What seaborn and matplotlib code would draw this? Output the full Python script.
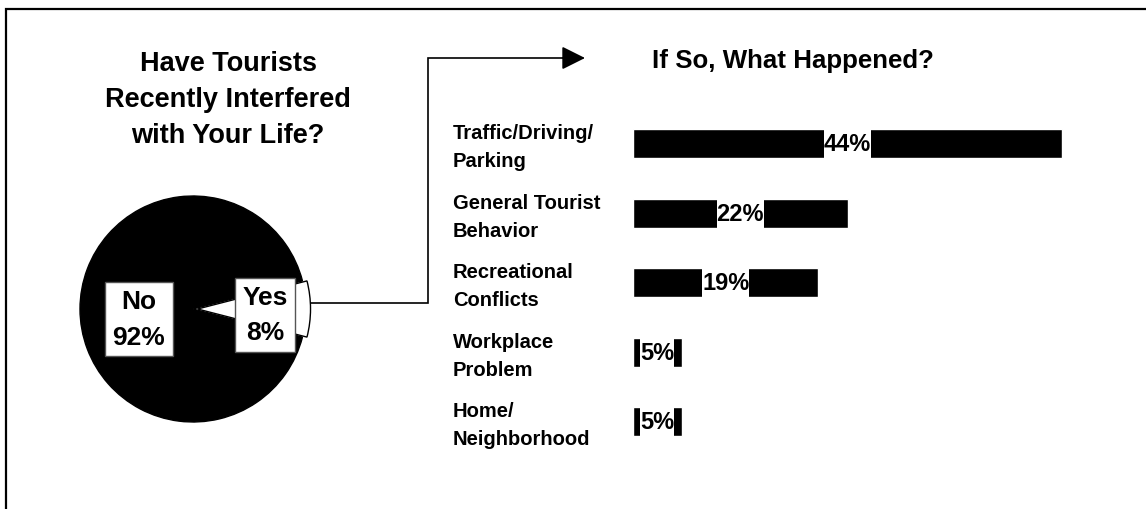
import matplotlib
matplotlib.use("Agg")
import matplotlib.pyplot as plt
import matplotlib.transforms as mtransforms
from matplotlib.path import Path
import numpy as np
import pandas as pd
import seaborn as sns

# Pie: did tourists interfere?
pie_labels = ["No", "Yes"]
pie_values = [92, 8]

# Bars: what happened (share of "Yes" answers)
categories = [
    "Traffic/Driving/\nParking",
    "General Tourist\nBehavior",
    "Recreational\nConflicts",
    "Workplace\nProblem",
    "Home/\nNeighborhood",
]
percentages = [44, 22, 19, 5, 5]

left_title = "Have Tourists\nRecently Interfered\nwith Your Life?"
right_title = "If So, What Happened?"

W, H = 1146, 510
sns.set_theme(style="white")
plt.rcParams["font.family"] = ["Liberation Sans", "DejaVu Sans"]
plt.rcParams["font.weight"] = "bold"

fig = plt.figure(figsize=(W / 100, H / 100), dpi=100)
fig.patch.set_facecolor("white")


def px_axes(left, top, width, height):
    """Add an axes placed in pixel units measured from the top-left corner."""
    return fig.add_axes([left / W, 1 - (top + height) / H, width / W, height / H])


def tall_box(x0, y0, width, height, mutation_size):
    """Label box tight to the text horizontally, padded vertically."""
    pady = 0.2 * mutation_size
    x1, y1 = x0 + width, y0 + height
    return Path([(x0, y0 - pady), (x1, y0 - pady), (x1, y1 + pady),
                 (x0, y1 + pady), (x0, y0 - pady)], closed=True)


# Full-figure canvas for titles, frame and connector (pixel coordinates)
canvas = px_axes(0, 0, W, H)
canvas.set_xlim(0, W)
canvas.set_ylim(H, 0)
canvas.axis("off")

# Frame along the top and left edges
canvas.plot([6, 6, W], [H, 10, 10], color="black", lw=1.6, solid_joinstyle="miter")

canvas.text(228, 51, left_title, ha="center", va="top", fontsize=19.5,
            fontweight="bold", linespacing=1.49, color="black")
canvas.text(652, 68, right_title, ha="left", va="baseline", fontsize=18.6,
            fontweight="bold", color="black")

# ---- Pie ----
R = 113
cx, cy = 193, 310
pie_ax = px_axes(cx - 1.2 * R, cy - 1.2 * R, 2.4 * R, 2.4 * R)
pie_ax.patch.set_alpha(0)
wedges, _ = pie_ax.pie(
    pie_values,
    colors=["black", "white"],
    startangle=pie_values[1] / 100 * 180,
    explode=[0, 0.04],
    radius=1,
    wedgeprops=dict(edgecolor="black", linewidth=1),
)
pie_ax.set_xlim(-1.2, 1.2)
pie_ax.set_ylim(-1.2, 1.2)
pie_ax.set_aspect("equal")
pie_ax.axis("off")

label_pos = {"No": (0.48, -0.09), "Yes": (0.64, -0.05)}
for w, lab, val in zip(wedges, pie_labels, pie_values):
    ang = np.deg2rad((w.theta1 + w.theta2) / 2)
    r, dy = label_pos[lab]
    pie_ax.text(r * np.cos(ang), r * np.sin(ang) + dy, f"{lab}\n{val}%",
                ha="center", va="center", fontsize=19, fontweight="bold",
                linespacing=1.6, color="black",
                bbox=dict(boxstyle="square,pad=0.28", fc="white", ec="#555555", lw=1))

# Connector from the "Yes" slice to the bar panel
yes = wedges[1]
start_disp = pie_ax.transData.transform((yes.center[0] + yes.r, yes.center[1] + 0.05))
sx, sy = canvas.transData.inverted().transform(start_disp)
turn_x, top_y, tip_x = 428, 59, 585
canvas.plot([sx, turn_x, turn_x, tip_x - 20], [sy, sy, top_y, top_y],
            color="black", lw=1.2, solid_joinstyle="miter")
canvas.annotate("", xy=(tip_x, top_y), xytext=(tip_x - 22, top_y),
                arrowprops=dict(arrowstyle="-|>,head_length=0.4,head_width=0.2",
                                mutation_scale=36, lw=1.2, color="black",
                                shrinkA=0, shrinkB=0))

# ---- Bars ----
df = pd.DataFrame({"category": categories, "pct": percentages})
bar_ax = px_axes(633, 110, 487.5, 347.5)
bar_ax.patch.set_alpha(0)
sns.barplot(data=df, x="pct", y="category", orient="h", color="black",
            saturation=1, width=0.42, ax=bar_ax)
bar_ax.set_xlim(0, 50)
bar_ax.set_ylim(4.5, -0.5)
bar_ax.set_xlabel("")
bar_ax.set_ylabel("")
bar_ax.set_xticks([])
sns.despine(ax=bar_ax, left=True, bottom=True)
bar_ax.tick_params(axis="y", length=0, pad=180 * 0.72)
shift_down = mtransforms.ScaledTranslation(0, -3 / 100, fig.dpi_scale_trans)
for t in bar_ax.get_yticklabels():
    t.set_ha("left")
    t.set_va("center")
    t.set_fontsize(14.5)
    t.set_fontweight("bold")
    t.set_linespacing(1.62)
    t.set_color("black")
    t.set_transform(t.get_transform() + shift_down)

bar_ax.bar_label(bar_ax.containers[0], labels=[f"{v}%" for v in percentages],
                 label_type="center", fontsize=17, fontweight="bold", color="black",
                 bbox=dict(boxstyle=tall_box, fc="white", ec="none"))

fig.savefig("out.png", dpi=100, facecolor="white")
